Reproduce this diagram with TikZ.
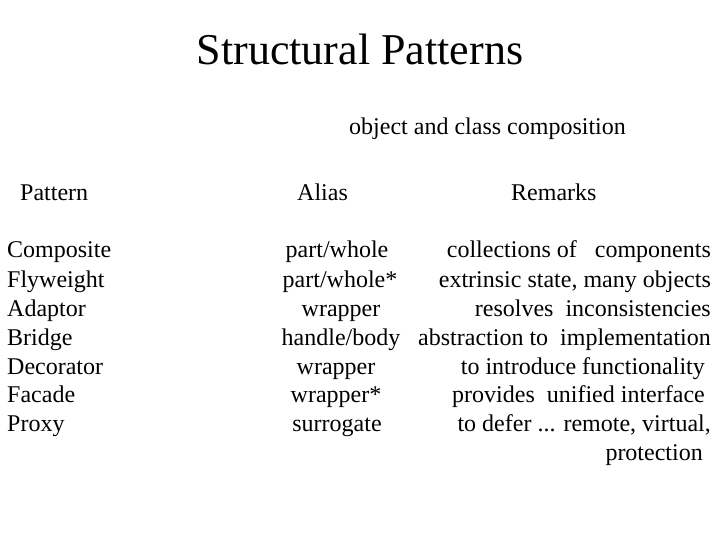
\documentclass[tikz,border=0pt]{standalone}
\usepackage{fontspec}
\setmainfont{Liberation Serif}
\begin{document}
\begin{tikzpicture}[x=1pt,y=-1pt,
  txt/.style={font=\fontsize{24}{28}\selectfont, inner sep=0pt},
  lft/.style={txt, anchor=base west},
  rgt/.style={txt, anchor=base east},
  ctr/.style={txt, anchor=base}]
\useasboundingbox (0,0) rectangle (720,540);
\node[anchor=base, inner sep=0pt, font=\fontsize{44}{52}\selectfont] (title) at (360,65) {Structural Patterns};
\node[lft] (sub) at (349,135) {object and class composition};
\node[lft] (hp) at (20,201) {Pattern};
\node[lft] (ha) at (297,201) {Alias};
\node[lft] (hr) at (511,201) {Remarks};
\foreach \n/\y in {Composite/258,Flyweight/287,Adaptor/316,Bridge/345,Decorator/374,Facade/402,Proxy/431}
  \node[lft] (p\n) at (7,\y) {\n};
\node[ctr] (a1) at (337,258) {part/whole};
\node[ctr] (a2) at (340,287) {part/whole*};
\node[ctr] (a3) at (341,316) {wrapper};
\node[ctr] (a4) at (341,345) {handle/body};
\node[ctr] (a5) at (336,374) {wrapper};
\node[ctr] (a6) at (336,402) {wrapper*};
\node[ctr] (a7) at (337,431) {surrogate};
\node[rgt] (r1) at (711,258) {collections of \ \ components};
\node[rgt] (r2) at (711,287) {extrinsic state, many objects};
\node[rgt] (r3) at (711,316) {resolves \ inconsistencies};
\node[rgt] (r4) at (711,345) {abstraction to \ implementation};
\node[rgt] (r5) at (705,374) {to introduce functionality};
\node[rgt] (r6) at (705,402) {provides \ unified interface};
\node[rgt] (r7) at (711,431) {to defer ... remote, virtual,};
\node[rgt] (r8) at (703,460) {protection};
\end{tikzpicture}
\end{document}
